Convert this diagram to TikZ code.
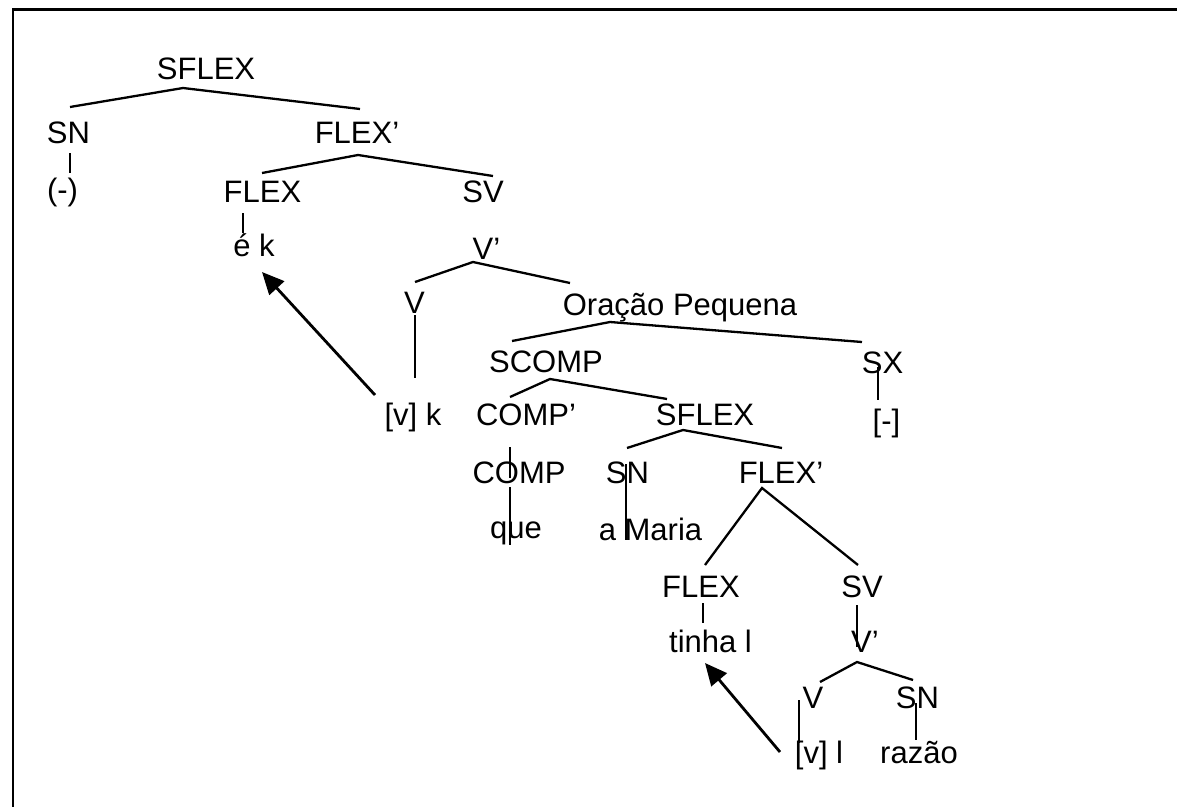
\documentclass[tikz,border=0pt]{standalone}
\usepackage{fontspec}
\setmainfont{Liberation Sans}
\usetikzlibrary{arrows.meta}
\begin{document}
\begin{tikzpicture}[x=1pt,y=-1pt,
  lbl/.style={inner sep=0pt, anchor=base, font=\fontsize{31}{36}\selectfont},
  br/.style={line width=2.3pt},
  mv/.style={line width=2.8pt, -{Triangle[length=22pt,width=20pt]}},
  frm/.style={line width=2.4pt}]
\useasboundingbox (0,0) rectangle (1177,806);
\fill[white] (-6,-6) rectangle (1183,812);
\draw[frm] (1180,9.5) -- (13,9.5) -- (13,810);

% labels
\node[lbl] (SFLEXa) at (206,79) {SFLEX};
\node[lbl] (SNa) at (68.5,143) {SN};
\node[lbl] (FLEXpa) at (357,143) {FLEX’};
\node[lbl] (nega) at (62.5,200) {(-)};
\node[lbl] (FLEXa) at (262.5,202) {FLEX};
\node[lbl] (SVa) at (483,202) {SV};
\node[lbl] (ek) at (254,256) {é k};
\node[lbl] (Vpa) at (486.5,259) {V’};
\node[lbl] (Va) at (414.5,313) {V};
\node[lbl] (OP) at (680,315) {Oração Pequena};
\node[lbl] (SCOMP) at (546,372) {SCOMP};
\node[lbl] (SX) at (882.5,373) {SX};
\node[lbl] (vk) at (413,425) {[v] k};
\node[lbl] (COMPp) at (526,425) {COMP’};
\node[lbl] (SFLEXb) at (705,425) {SFLEX};
\node[lbl] (negb) at (886.5,431) {[-]};
\node[lbl] (COMP) at (519,483) {COMP};
\node[lbl] (SNb) at (627.5,483) {SN};
\node[lbl] (FLEXpb) at (781,483) {FLEX’};
\node[lbl] (que) at (516,538) {que};
\node[lbl] (aMaria) at (650.5,540) {a Maria};
\node[lbl] (FLEXb) at (701,597) {FLEX};
\node[lbl] (SVb) at (862,597) {SV};
\node[lbl] (tinha) at (710.5,652) {tinha l};
\node[lbl] (Vpb) at (865,652) {V’};
\node[lbl] (Vb) at (813,708) {V};
\node[lbl] (SNc) at (917.5,708) {SN};
\node[lbl] (vl) at (819,763) {[v] l};
\node[lbl] (razao) at (919,763) {razão};

% branch points
\coordinate (SFLEXa-l) at (70,107);
\coordinate (SFLEXa-t) at (183,88);
\coordinate (SFLEXa-r) at (360,109);
\coordinate (SNa-t) at (70,153);
\coordinate (nega-t) at (70,173);
\coordinate (FLEXpa-l) at (262,173);
\coordinate (FLEXpa-t) at (358,155);
\coordinate (FLEXpa-r) at (493,176);
\coordinate (FLEXa-b) at (243,213);
\coordinate (ek-t) at (243,233);
\coordinate (Vpa-l) at (415,282);
\coordinate (Vpa-t) at (473,262);
\coordinate (Vpa-r) at (570,283);
\coordinate (Va-b) at (415,315);
\coordinate (vk-t) at (415,378);
\coordinate (vk-s) at (375,395);
\coordinate (ek-s) at (262,272);
\coordinate (OP-l) at (512,341);
\coordinate (OP-t) at (610,322);
\coordinate (OP-r) at (862,342);
\coordinate (SCOMP-l) at (510,397);
\coordinate (SCOMP-t) at (550,379);
\coordinate (SCOMP-r) at (667,399);
\coordinate (SX-b) at (878,367);
\coordinate (negb-t) at (878,400);
\coordinate (COMPp-b) at (510,447);
\coordinate (COMP-t) at (510,478);
\coordinate (COMP-b) at (510,487);
\coordinate (que-t) at (510,545);
\coordinate (SFLEXb-l) at (627,448);
\coordinate (SFLEXb-t) at (683,430);
\coordinate (SFLEXb-r) at (782,448);
\coordinate (SNb-b) at (626,464);
\coordinate (aMaria-t) at (626,540);
\coordinate (FLEXpb-l) at (705,565);
\coordinate (FLEXpb-t) at (762,488);
\coordinate (FLEXpb-r) at (858,565);
\coordinate (FLEXb-b) at (703,603);
\coordinate (tinha-t) at (703,623);
\coordinate (SVb-b) at (857,605);
\coordinate (Vpb-t0) at (857,647);
\coordinate (Vpb-l) at (820,682);
\coordinate (Vpb-t) at (857,662);
\coordinate (Vpb-r) at (913,680);
\coordinate (Vb-b) at (799,700);
\coordinate (vl-t) at (799,743);
\coordinate (SNc-b) at (916,703);
\coordinate (razao-t) at (916,740);
\coordinate (vl-s) at (780,752);
\coordinate (tinha-s) at (705,663);

% connectors
\draw[br] (SFLEXa-l) -- (SFLEXa-t) -- (SFLEXa-r);
\draw[br] (SNa-t) -- (nega-t);
\draw[br] (FLEXpa-l) -- (FLEXpa-t) -- (FLEXpa-r);
\draw[br] (FLEXa-b) -- (ek-t);
\draw[br] (Vpa-l) -- (Vpa-t) -- (Vpa-r);
\draw[br] (Va-b) -- (vk-t);
\draw[br] (OP-l) -- (OP-t) -- (OP-r);
\draw[br] (SCOMP-l) -- (SCOMP-t) -- (SCOMP-r);
\draw[br] (SX-b) -- (negb-t);
\draw[br] (COMPp-b) -- (COMP-t);
\draw[br] (COMP-b) -- (que-t);
\draw[br] (SFLEXb-l) -- (SFLEXb-t) -- (SFLEXb-r);
\draw[br] (SNb-b) -- (aMaria-t);
\draw[br] (FLEXpb-l) -- (FLEXpb-t) -- (FLEXpb-r);
\draw[br] (FLEXb-b) -- (tinha-t);
\draw[br] (SVb-b) -- (Vpb-t0);
\draw[br] (Vpb-l) -- (Vpb-t) -- (Vpb-r);
\draw[br] (Vb-b) -- (vl-t);
\draw[br] (SNc-b) -- (razao-t);

% movement arrows
\draw[mv] (vk-s) -- (ek-s);
\draw[mv] (vl-s) -- (tinha-s);
\end{tikzpicture}
\end{document}
